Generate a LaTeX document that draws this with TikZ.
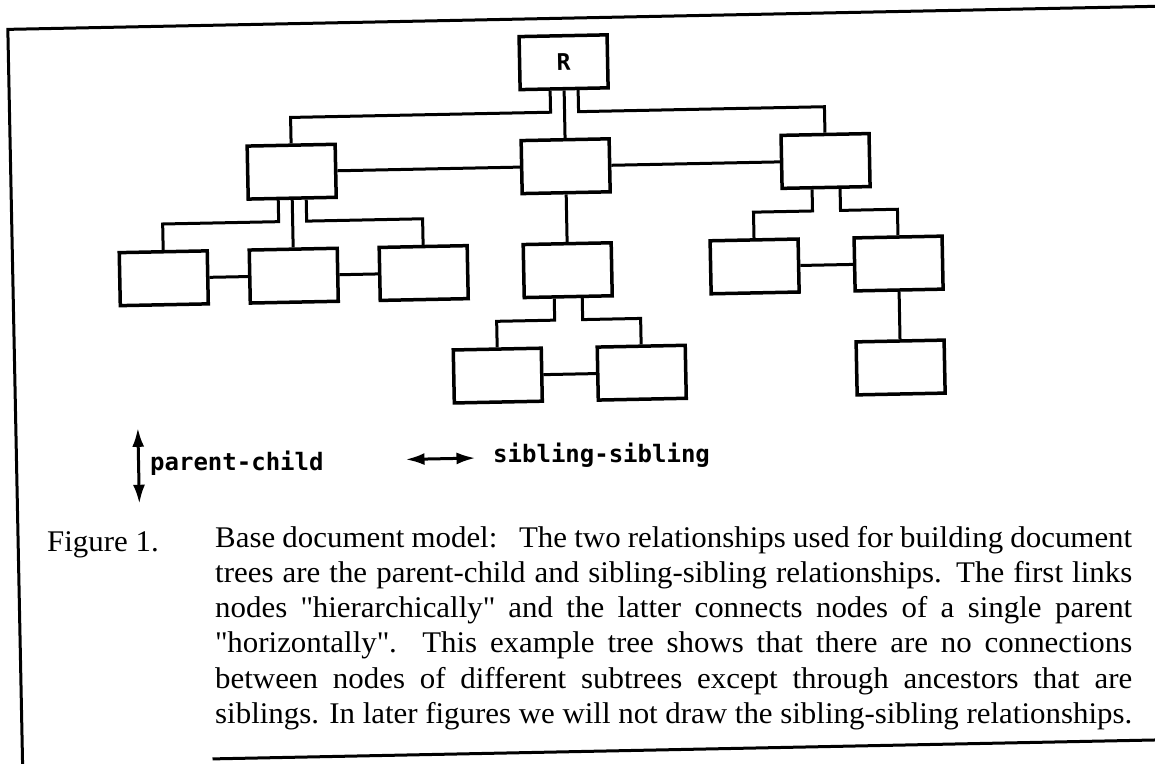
\documentclass[tikz,border=0pt]{standalone}
\usepackage{fontspec}
\setmainfont{Liberation Serif}[FakeStretch=1.03]
\newfontfamily\legendfont{DejaVu Sans Mono}
\usepackage{tikz}
\usetikzlibrary{positioning,arrows.meta}

\begin{document}
\begin{tikzpicture}[x=1pt, y=-1pt, node distance=104pt, on grid,
    docnode/.style={draw, line width=3.5pt, minimum width=88pt, minimum height=53pt, inner sep=0pt},
    link/.style={line width=3pt},
    legend/.style={font=\legendfont\bfseries\fontsize{24}{28}\selectfont, inner sep=0pt},
    relarrow/.style={line width=3pt, {Latex[length=19pt,width=12pt]}-{Latex[length=19pt,width=12pt]}},
    captext/.style={font=\fontsize{30}{35.2}\selectfont, inner sep=0pt}]
  \useasboundingbox (0,0) rectangle (1155,763);
  \clip (0,0) rectangle (1155,763);
  \begin{scope}[rotate around={1.15:(577.5,381.5)}, transform shape]
    % Frame
    \draw[line width=3pt] (1200,18) -- (15,18) -- (15,800);
    \draw[line width=3pt] (205,751.5) -- (1200,751.5);

    % Tree
    \node[docnode, font=\legendfont\bfseries\fontsize{23}{26}\selectfont] (root) at (570,62) {R};
    \node[docnode] (n2) [below=of root] {};
    \node[docnode] (n1) [left=274pt of n2] {};
    \node[docnode] (n3) [right=260pt of n2] {};
    \node[docnode] (n12) [below=of n1] {};
    \node[docnode] (n11) [left=130pt of n12] {};
    \node[docnode] (n13) [right=130pt of n12] {};
    \node[docnode] (n21) [below=of n2] {};
    \node[docnode] (n211) [below left=104pt and 72pt of n21] {};
    \node[docnode] (n212) [below right=104pt and 72pt of n21] {};
    \node[docnode] (n31) [below left=104pt and 73pt of n3] {};
    \node[docnode] (n32) [below right=104pt and 71pt of n3] {};
    \node[docnode] (n321) [below=of n32] {};

    % Parent-child links
    \draw[link] ([xshift=-14pt]root.south) |- ([yshift=26pt]n1.north) -- (n1.north);
    \draw[link] (root.south) -- (n2.north);
    \draw[link] ([xshift=14pt]root.south) |- ([yshift=26pt]n3.north) -- (n3.north);
    \draw[link] ([xshift=-14pt]n1.south) |- ([yshift=26pt]n11.north) -- (n11.north);
    \draw[link] (n1.south) -- (n12.north);
    \draw[link] ([xshift=14pt]n1.south) |- ([yshift=26pt]n13.north) -- (n13.north);
    \draw[link] (n2.south) -- (n21.north);
    \draw[link] ([xshift=-14pt]n21.south) |- ([yshift=26pt]n211.north) -- (n211.north);
    \draw[link] ([xshift=14pt]n21.south) |- ([yshift=26pt]n212.north) -- (n212.north);
    \draw[link] ([xshift=-14pt]n3.south) |- ([yshift=26pt]n31.north) -- (n31.north);
    \draw[link] ([xshift=14pt]n3.south) |- ([yshift=26pt]n32.north) -- (n32.north);
    \draw[link] (n32.south) -- (n321.north);

    % Sibling links
    \draw[link] (n1.east) -- (n2.west);
    \draw[link] (n2.east) -- (n3.west);
    \draw[link] (n11.east) -- (n12.west);
    \draw[link] (n12.east) -- (n13.west);
    \draw[link] (n211.east) -- (n212.west);
    \draw[link] (n31.east) -- (n32.west);

    % Legend arrows
    \coordinate (pc_top) at (137,419);
    \coordinate (pc_bot) at (137,495);
    \draw[relarrow] (pc_top) -- (pc_bot);
    \coordinate (ss_left) at (404,456);
    \coordinate (ss_right) at (474,456);
    \draw[relarrow] (ss_left) -- (ss_right);
  \end{scope}

  % Legend labels
  \node[legend, anchor=base west] (pc_label) at (150,470) {parent-child};
  \node[legend, anchor=base west] (ss_label) at (493,462) {sibling-sibling};

  % Caption
  \node[captext, anchor=base west] (fig_tag) at (47,551) {Figure 1.};
  \node[captext, anchor=north west, text width=917pt, align=justify] (caption) at (215,526)
    {Base document model:\ \ \ The two relationships used for building document\linebreak
     trees are the parent-child and sibling-sibling relationships.  The first links\linebreak
     nodes \textquotedbl hierarchically\textquotedbl{} and the latter connects nodes of a single parent\linebreak
     \textquotedbl horizontally\textquotedbl.  This example tree shows that there are no connections\linebreak
     between nodes of different subtrees except through ancestors that are\linebreak
     siblings. In later figures we will not draw the sibling-sibling relationships.};
\end{tikzpicture}
\end{document}
